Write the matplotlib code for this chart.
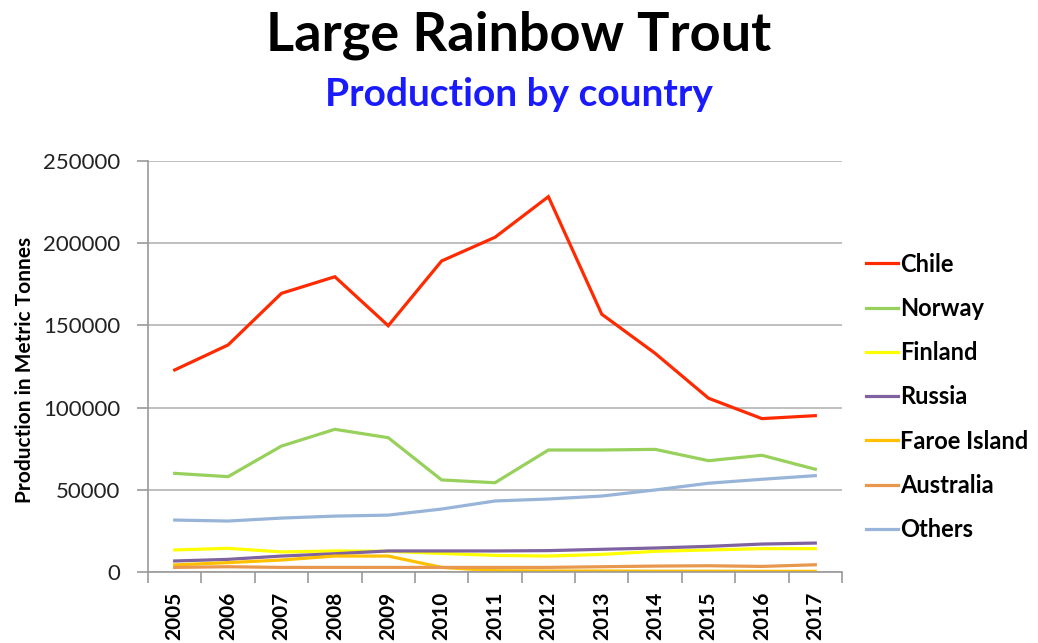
import numpy as np
import matplotlib.pyplot as plt
from matplotlib.ticker import FixedLocator

years = ['2005', '2006', '2007', '2008', '2009', '2010', '2011',
         '2012', '2013', '2014', '2015', '2016', '2017']

chile = [122900, 138100, 169500, 179600, 149800, 189200, 203600,
         228300, 156800, 133000, 105700, 93300, 95100]
norway = [60000, 58000, 76600, 86800, 81700, 56000, 54300,
          74200, 74200, 74600, 67700, 71000, 62500]
finland = [13400, 14400, 12200, 12800, 12600, 11300, 10100,
           9700, 10700, 12600, 13400, 14200, 14200]
russia = [6700, 7700, 9700, 11100, 12800, 12800, 12800,
          13000, 13800, 14600, 15600, 17000, 17600]
faroe = [4300, 5700, 7300, 9700, 9700, 2800, 800,
         600, 600, 500, 500, 400, 400]
australia = [2800, 3200, 2800, 2800, 2800, 2800, 2800,
             2800, 3200, 3600, 3800, 3400, 4400]
others = [31600, 31000, 32800, 34000, 34600, 38300, 43200,
          44400, 46200, 49900, 54000, 56400, 58600]

series = [
    ('Chile', chile, '#ff2a00'),
    ('Norway', norway, '#98d05c'),
    ('Finland', finland, '#ffff00'),
    ('Russia', russia, '#7f63a1'),
    ('Faroe Island', faroe, '#ffc000'),
    ('Australia', australia, '#e8974f'),
    ('Others', others, '#98b4d8'),
]

plt.rcParams['font.family'] = ['Lato', 'DejaVu Sans']

fig = plt.figure(figsize=(10.38, 6.43), dpi=100)
W, H = 1038, 643
ax = fig.add_axes([148 / W, 1 - 572 / H, (842 - 148) / W, (572 - 161) / H])

x = np.arange(len(years))
for name, vals, col in series:
    ax.plot(x, vals, color=col, lw=2.3, label=name, solid_joinstyle='miter')

ax.set_xlim(-0.5, len(years) - 0.5)
ax.set_ylim(0, 250000)
ax.set_yticks(np.arange(0, 250001, 50000))
ax.set_yticklabels([str(v) for v in range(0, 250001, 50000)], fontsize=16, color='#222222')
ax.yaxis.grid(True, color='#b4b4b4', lw=1.2)
ax.set_axisbelow(True)

ax.set_xticks(x)
ax.set_xticklabels(years, rotation=90, fontsize=15, fontweight='bold')
ax.xaxis.set_minor_locator(FixedLocator(np.arange(-0.5, len(years), 1.0)))
ax.tick_params(axis='x', which='major', length=0, pad=14)
ax.tick_params(axis='x', which='minor', length=8, color='#999999', width=1.2)
ax.tick_params(axis='y', length=8, color='#999999', width=1.2, pad=12)

for s in ['top', 'right']:
    ax.spines[s].set_visible(False)
for s in ['left', 'bottom']:
    ax.spines[s].set_color('#999999')
    ax.spines[s].set_linewidth(1.2)

fig.text(25 / W, 1 - 370 / H, 'Production in Metric Tonnes', rotation=90,
         ha='center', va='center', fontsize=15, fontweight='bold')

fig.text(0.5, 1 - 35 / H, 'Large Rainbow Trout', ha='center', va='center',
         fontsize=39, fontweight='bold')
fig.text(0.5, 1 - 95 / H, 'Production by country', ha='center', va='center',
         fontsize=28, fontweight='bold', color='#1a1aff')

fig.legend(loc='center left', bbox_to_anchor=(866 / W, 1 - 397 / H),
           frameon=False, prop={'size': 17, 'weight': 'bold'},
           handlelength=1.35, handletextpad=0.1, labelspacing=0.9,
           borderaxespad=0, borderpad=0)

fig.savefig('out.png', dpi=100)
